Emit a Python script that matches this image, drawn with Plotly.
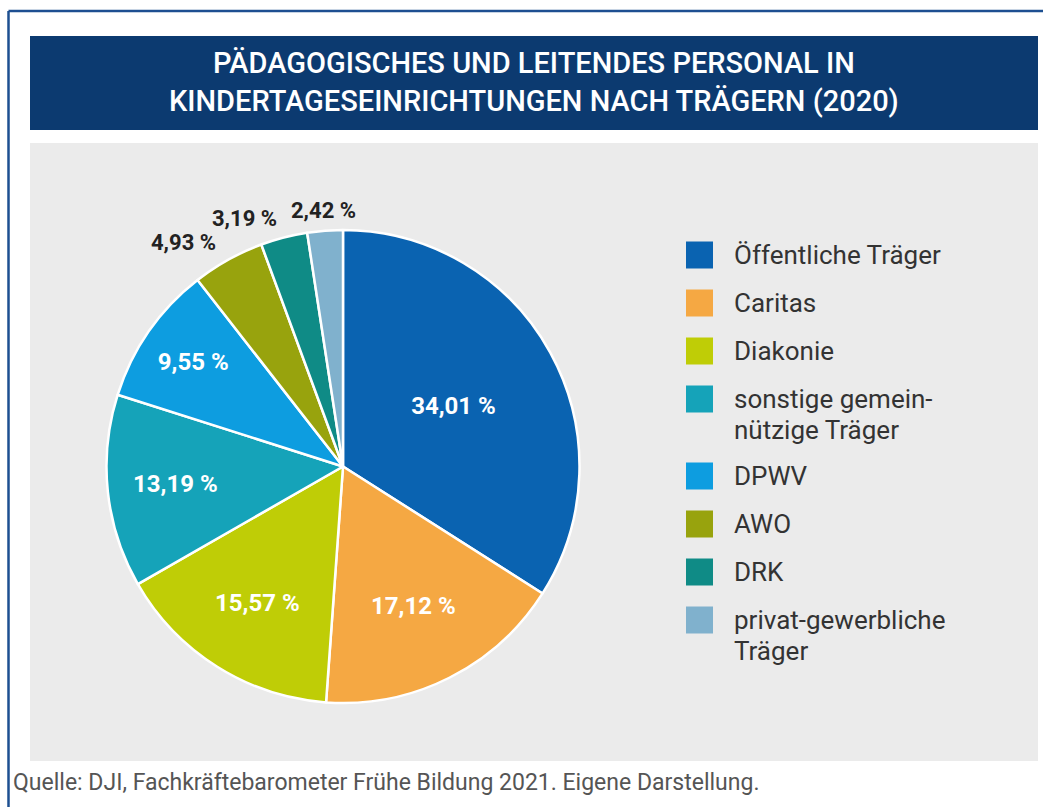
import math
import plotly.graph_objects as go

W, H = 1043, 807

categories = ["Öffentliche Träger", "Caritas", "Diakonie",
              "sonstige gemein-<br>nützige Träger", "DPWV", "AWO", "DRK",
              "privat-gewerbliche<br>Träger"]
values = [34.01, 17.12, 15.57, 13.19, 9.55, 4.93, 3.19, 2.42]
colors = ["#0a63b1", "#f5a843", "#bfcd06", "#15a3b9", "#0d9de0",
          "#98a30d", "#0f8b86", "#80b1cd"]
label_pos = ["inside"] * 5 + ["none"] * 3

title_text = "PÄDAGOGISCHES UND LEITENDES PERSONAL IN<br>KINDERTAGESEINRICHTUNGEN NACH TRÄGERN (2020)"
source_text = "Quelle: DJI, Fachkräftebarometer Frühe Bildung 2021. Eigene Darstellung."


def X(px):
    return px / W


def Y(py):
    return 1 - py / H


# pie geometry (pixels)
CX, CY, R = 343, 466.5, 236.5

texts = [f"{v:.2f}".replace(".", ",") + " %" for v in values]

fig = go.Figure(go.Pie(
    labels=[c.replace("<br>", " ") for c in categories],
    values=values,
    text=texts,
    textinfo="text",
    textposition=label_pos,
    insidetextorientation="horizontal",
    sort=False,
    direction="clockwise",
    rotation=0,
    marker=dict(colors=colors, line=dict(color="white", width=2.5)),
    insidetextfont=dict(family="Roboto", size=24, color="white", weight="bold"),
    domain=dict(x=[X(CX - R), X(CX + R)], y=[Y(CY + R), Y(CY - R)]),
    showlegend=False,
    hoverinfo="label+text",
))

shapes = [
    dict(type="rect", xref="paper", yref="paper", x0=X(30), x1=X(1038), y0=Y(761), y1=Y(143),
         fillcolor="#ebebeb", line=dict(width=0), layer="below"),
    dict(type="rect", xref="paper", yref="paper", x0=X(30), x1=X(1038), y0=Y(130), y1=Y(36),
         fillcolor="#0c3a70", line=dict(width=0), layer="below"),
    dict(type="line", xref="paper", yref="paper", x0=X(8.5), x1=X(8.5), y0=Y(807), y1=Y(11),
         line=dict(color="#1d4f91", width=2.5)),
    dict(type="line", xref="paper", yref="paper", x0=X(8.5), x1=X(1043), y0=Y(11), y1=Y(11),
         line=dict(color="#1d4f91", width=2.5)),
]

annotations = [
    dict(text=title_text, xref="paper", yref="paper", x=X(534), y=Y(82), xanchor="center",
         yanchor="middle", showarrow=False,
         font=dict(family="Roboto", size=29, color="white", weight=500)),
    dict(text=source_text, xref="paper", yref="paper", x=X(11), y=Y(782), xanchor="left",
         yanchor="middle", showarrow=False,
         font=dict(family="Roboto", size=23, color="#555555")),
]

# outside labels for the small slices, placed just outside the slice's mid angle
total = sum(values)
cum = 0.0
for v, t, pos in zip(values, texts, label_pos):
    mid = (cum + v / 2) / total * 2 * math.pi
    cum += v
    if pos != "none":
        continue
    rl = R + 20
    s, c = math.sin(mid), math.cos(mid)
    annotations.append(dict(text=t, xref="paper", yref="paper",
                            x=X(CX + rl * s), y=Y(CY - rl * c),
                            xanchor="right" if s < -0.2 else "center", yanchor="middle",
                            showarrow=False,
                            font=dict(family="Roboto", size=22, color="#222222", weight="bold")))

# custom legend built from categories/colors
y_c = 255
sq = 27
for cat, col in zip(categories, colors):
    lines = cat.split("<br>")
    shapes.append(dict(type="rect", xref="paper", yref="paper",
                       x0=X(686), x1=X(686 + sq), y0=Y(y_c + sq / 2), y1=Y(y_c - sq / 2),
                       fillcolor=col, line=dict(width=0)))
    for i, ln in enumerate(lines):
        annotations.append(dict(text=ln, xref="paper", yref="paper", x=X(732),
                                y=Y(y_c + i * 31), xanchor="left", yanchor="middle",
                                showarrow=False,
                                font=dict(family="Roboto", size=26, color="#333333")))
    y_c += 48 + 29 * (len(lines) - 1)

fig.update_layout(
    width=W, height=H,
    margin=dict(l=0, r=0, t=0, b=0),
    paper_bgcolor="white",
    plot_bgcolor="white",
    shapes=shapes,
    annotations=annotations,
)

fig.write_html("out.html", config={"displayModeBar": False},
               post_script="document.body.style.margin='0';document.body.style.overflow='hidden';")
